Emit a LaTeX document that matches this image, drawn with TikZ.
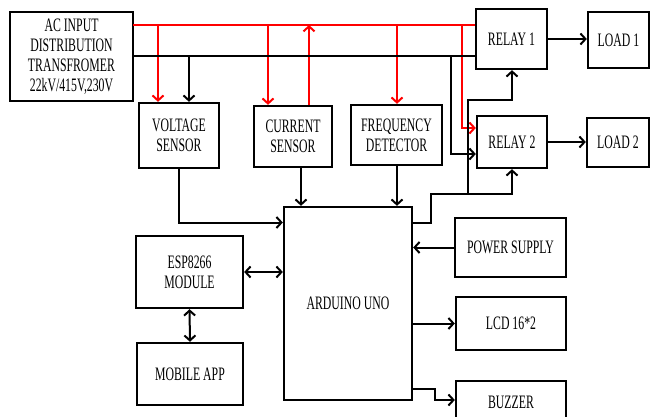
\documentclass[tikz,border=0pt]{standalone}
\usepackage{fontspec}
\setmainfont[FakeStretch=0.62]{Liberation Serif}
\usetikzlibrary{arrows.meta}
\tikzset{
    blk/.style={draw, line width=2.4pt, align=center, inner sep=0pt, font=\fontsize{19}{20}\selectfont},
    wire/.style={line width=2pt},
    arr/.style={wire, -{Straight Barb[length=5pt,width=11pt]}},
    darr/.style={wire, {Straight Barb[length=5pt,width=11pt]}-{Straight Barb[length=5pt,width=11pt]}},
}
\begin{document}
\begin{tikzpicture}[x=1pt,y=-1pt]
        \useasboundingbox (0,0) rectangle (651,417);
        % blocks
        \node [blk, minimum width=123, minimum height=89] (ac) at (71.5,56.5) {AC INPUT\\DISTRIBUTION\\TRANSFROMER\\22kV/415V,230V};
        \node [blk, minimum width=80, minimum height=65] (volt) at (179,135.5) {VOLTAGE\\SENSOR};
        \node [blk, minimum width=78, minimum height=61] (curr) at (293,136.5) {CURRENT\\SENSOR};
        \node [blk, minimum width=91, minimum height=60] (freq) at (396.5,135) {FREQUENCY\\DETECTOR};
        \node [blk, minimum width=71, minimum height=60] (relay1) at (511.5,39) {RELAY 1};
        \node [blk, minimum width=61, minimum height=56] (load1) at (618.5,40) {LOAD 1};
        \node [blk, minimum width=70, minimum height=52] (relay2) at (512,142) {RELAY 2};
        \node [blk, minimum width=62, minimum height=49] (load2) at (618,142.5) {LOAD 2};
        \node [blk, minimum width=128, minimum height=193] (uno) at (348,303.5) {ARDUINO UNO};
        \node [blk, minimum width=107, minimum height=72] (esp) at (189.5,272) {ESP8266\\MODULE};
        \node [blk, minimum width=106, minimum height=62] (app) at (190,374) {MOBILE APP};
        \node [blk, minimum width=111, minimum height=59] (psu) at (510.5,247.5) {POWER SUPPLY};
        \node [blk, minimum width=110, minimum height=53] (lcd) at (511,323.5) {LCD 16*2};
        \node [blk, minimum width=110, minimum height=42] (buzz) at (511,402) {BUZZER};
        % tap points
        \coordinate (rb) at (133,25);
        \coordinate (t1) at (158,0);\coordinate (t2) at (189,0);\coordinate (t3) at (268,0);\coordinate (t4) at (309,0);
        \coordinate (t5) at (397,0);\coordinate (t6) at (451,0);\coordinate (t7) at (462,0);\coordinate (t8) at (301,0);
        \coordinate (j1) at (431,194);\coordinate (j2) at (468,194);
        % red line
        \draw [wire, red] (rb) -- (rb -| relay1.west);
        \draw [arr, red] (rb -| t1) -- (volt.north -| t1);
        \draw [arr, red] (rb -| t3) -- (curr.north -| t3);
        \draw [arr, red] (curr.north -| t4) -- (rb -| t4);
        \draw [arr, red] (rb -| t5) -- (freq.north -| t5);
        \draw [arr, red] (rb -| t7) |- ([yshift=14pt]relay2.west);
        % black line
        \draw [wire] (ac.east) -- (ac.east -| relay1.west);
        \draw [arr] (ac.east -| t2) -- (volt.north -| t2);
        \draw [arr] (ac.east -| t6) |- ([yshift=-12pt]relay2.west);
        % sensors to uno
        \draw [arr] (volt.south) |- ([yshift=81pt]uno.west);
        \draw [arr] (curr.south -| t8) -- (uno.north -| t8);
        \draw [arr] (freq.south -| t5) -- (uno.north -| t5);
        % uno to relays
        \draw [wire] ([yshift=81pt]uno.east) -| (j1) -- (j2);
        \draw [arr] (j2) |- ++(44,-94) -- (relay1.south -| 512,0);
        \draw [arr] (j2) -- (j2 -| relay2.south) -- (relay2.south);
        \draw [arr] (relay1.east) -- (load1.west |- relay1.east);
        \draw [arr] (relay2.east) -- (load2.west |- relay2.east);
        % uno side
        \draw [arr] (psu.west) -- (uno.east |- psu.west);
        \draw [arr] (uno.east |- lcd.west) -- (lcd.west);
        \draw [arr] ([yshift=-85pt]uno.east) -- ++(22,0) |- ([yshift=2pt]buzz.west);
        \draw [darr] (esp.east) -- (uno.west |- esp.east);
        \draw [darr] (esp.south) -- (app.north);
    \end{tikzpicture}
\end{document}
